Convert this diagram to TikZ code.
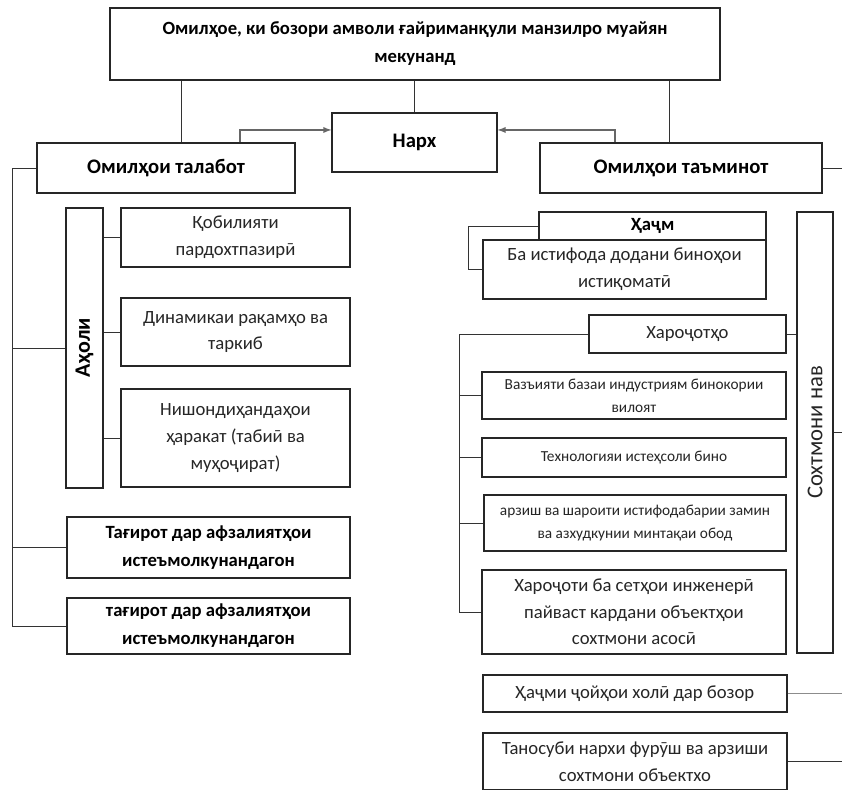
\documentclass[tikz,border=0pt]{standalone}
\usepackage{fontspec}
\setmainfont{Carlito}
\usepackage{graphicx}
\usetikzlibrary{calc}
\tikzset{
	box/.style={draw=black!85, line width=0.9pt, fill=white, align=center, inner sep=2pt, text=black!85, font=\fontsize{14}{20}\selectfont},
	boldbox/.style={box, text=black, font=\fontsize{14}{21}\selectfont\bfseries},
	headbox/.style={boldbox, font=\fontsize{15.5}{19}\selectfont\bfseries},
	smallbox/.style={box, font=\fontsize{11.5}{17}\selectfont},
	link/.style={draw=black!80, line width=0.6pt},
	toprice/.style={draw=black!60, line width=1.1pt, -latex},
}

\begin{document}
\begin{tikzpicture}[x=0.75pt, y=-0.75pt]
		%%%%% START %%%%%
		\useasboundingbox (0,0) rectangle (842,789);
		
		\node[boldbox, minimum width=457.5pt, minimum height=54pt] (top) at (415,44) {Омилҳое, ки бозори амволи ғайриманқули манзилро муайян\\ мекунанд};
		\node[headbox, minimum width=123.75pt, minimum height=44.25pt] (narx) at (414.5,142.5) {Нарх};
		\node[headbox, minimum width=193.5pt, minimum height=37.5pt] (talabot) at (166,168) {Омилҳои талабот};
		\node[headbox, minimum width=211.5pt, minimum height=37.5pt] (taminot) at (681,168) {Омилҳои таъминот};
		
		\draw[link] ([xshift=11.25pt]talabot.north) -- ([xshift=11.25pt]talabot.north |- top.south);
		\draw[link] (narx.north) -- (narx.north |- top.south);
		\draw[link] ([xshift=-9pt]taminot.north) -- ([xshift=-9pt]taminot.north |- top.south);
		\draw[toprice] ([xshift=55.5pt]talabot.north) |- ([yshift=9.4pt]narx.west);
		\draw[toprice] ([xshift=-49.5pt]taminot.north) |- ([yshift=9.4pt]narx.east);
		
		% demand side
		\node[boldbox, minimum width=27.75pt, minimum height=210pt, font=\fontsize{16.5}{20}\selectfont\bfseries] (aholi) at (84.5,348) {\rotatebox{90}{Аҳоли}};
		\node[box, minimum width=171.75pt, minimum height=44.25pt] (qobil) at (235.5,237.5) {Қобилияти\\ пардохтпазирӣ};
		\node[box, minimum width=171.75pt, minimum height=51pt] (dinam) at (235.5,332) {Динамикаи рақамҳо ва\\ таркиб};
		\node[box, minimum width=171.75pt, minimum height=73.5pt] (nishon) at (235.5,438) {Нишондиҳандаҳои\\ ҳаракат (табиӣ ва\\ муҳоҷират)};
		\node[boldbox, minimum width=212.25pt, minimum height=45.75pt] (tagir1) at (208.5,547.5) {Тағирот дар афзалиятҳои\\ истеъмолкунандагон};
		\node[boldbox, minimum width=212.25pt, minimum height=42pt] (tagir2) at (208.5,626) {тағирот дар афзалиятҳои\\ истеъмолкунандагон};
		
		\coordinate (spineL) at (12,626);
		\draw[link] (talabot.west) -| (spineL) -- (tagir2.west);
		\draw[link] (aholi.west) -- (aholi.west -| spineL);
		\draw[link] (tagir1.west) -- (tagir1.west -| spineL);
		\foreach \n in {qobil,dinam,nishon}
			\draw[link] (\n.west) -- (\n.west -| aholi.east);
		
		% supply side
		\node[boldbox, minimum width=170.25pt, minimum height=21pt] (hajm) at (652.5,226) {Ҳаҷм};
		\node[box, minimum width=212.25pt, minimum height=44.25pt] (istifoda) at (624.5,269.5) {Ба истифода додани биноҳои\\ истиқоматӣ};
		\node[box, minimum width=147.75pt, minimum height=28.5pt] (harojot) at (687.5,334) {Хароҷотҳо};
		\node[box, minimum width=27pt, minimum height=330.75pt, font=\fontsize{17}{20}\selectfont] (sohtmon) at (815,432.5) {\rotatebox{90}{Сохтмони нав}};
		\node[smallbox, minimum width=228pt, minimum height=35.25pt] (vazyat) at (634,395.5) {Вазъияти базаи индустриям бинокории\\ вилоят};
		\node[smallbox, minimum width=228pt, minimum height=29.25pt] (tehno) at (634,457.5) {Технологияи истеҳсоли бино};
		\node[smallbox, minimum width=226.5pt, minimum height=42pt] (arzish) at (635,523) {арзиш ва шароити истифодабарии замин\\ ва азхудкунии минтақаи обод};
		\node[box, minimum width=228pt, minimum height=63pt] (harojoti) at (634,612) {Хароҷоти ба сетҳои инженерӣ\\ пайваст кардани объектҳои\\ сохтмони асосӣ};
		\node[box, minimum width=228pt, minimum height=27.75pt] (hajmi) at (635,693.5) {Ҳаҷми ҷойҳои холӣ дар бозор};
		\node[box, minimum width=228pt, minimum height=42.75pt] (tanosub) at (635,761.5) {Таносуби нархи фурӯш ва арзиши\\ сохтмони объектхо};
		
		\coordinate (hajmL) at (468,0);
		\draw[link] (hajm.west) -| (hajmL |- istifoda.west) -- (istifoda.west);
		\draw[link] (harojot.east) -- (harojot.east -| sohtmon.west);
		\coordinate (spineR) at (459,612);
		\draw[link] (harojot.west) -| (spineR) -- (harojoti.west);
		\foreach \n in {vazyat,tehno,arzish}
			\draw[link] (\n.west) -- (\n.west -| spineR);
		
		\coordinate (edgeR) at (842,0);
		\foreach \n in {taminot,sohtmon,tanosub}
			\draw[link] (\n.east) -- (\n.east -| edgeR);
		\draw[link, draw=black!45] (hajmi.east) -- (hajmi.east -| edgeR);
		
		%%%%% END %%%%%
\end{tikzpicture}
\end{document}
